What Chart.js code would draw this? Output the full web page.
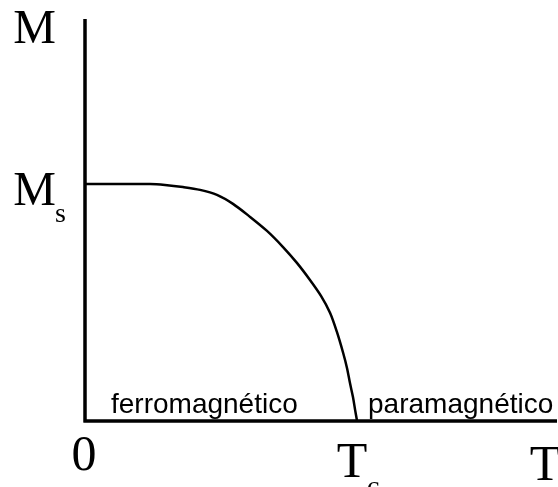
<!DOCTYPE html>
<html>
<head>
<meta charset="utf-8">
<script src="https://cdn.jsdelivr.net/npm/chart.js@4/dist/chart.umd.min.js"></script>
<style>
  body { margin: 0; background: #fff; }
  #wrap { width: 558px; height: 487px; position: relative; }
</style>
</head>
<body>
<div id="wrap"><canvas id="myChart"></canvas></div>
<script>
// T / Tc and M / Ms
const temps = [0, 0.239, 0.294, 0.360, 0.423, 0.485, 0.544, 0.607, 0.669, 0.728, 0.779,
               0.827, 0.868, 0.901, 0.926, 0.949, 0.963, 0.974, 0.985, 0.993, 1.0];
const magn  = [1, 1.0, 0.996, 0.987, 0.975, 0.954, 0.916, 0.861, 0.802, 0.734, 0.667,
               0.595, 0.527, 0.456, 0.376, 0.287, 0.224, 0.160, 0.101, 0.046, 0];
const regionLabels = ['ferromagnético', 'paramagnético'];
const xMax = 1.735, yMax = 1.696;

const serif = '"Liberation Serif", "Times New Roman", serif';
const sans = '"Liberation Sans", Arial, sans-serif';

const axesAndLabels = {
    id: 'axesAndLabels',
    afterDatasetsDraw(c) {
        const ctx = c.ctx, x = c.scales.x, y = c.scales.y;
        const x0 = x.getPixelForValue(0), y0 = y.getPixelForValue(0);
        const xEnd = x.getPixelForValue(xMax), yTop = y.getPixelForValue(yMax);
        const xc = x.getPixelForValue(1), ys = y.getPixelForValue(1);
        ctx.save();
        ctx.strokeStyle = '#000';
        ctx.lineWidth = 3.5;
        ctx.beginPath();
        ctx.moveTo(x0, yTop); ctx.lineTo(x0, y0 + 1.5);
        ctx.moveTo(x0 - 1.5, y0); ctx.lineTo(xEnd, y0);
        ctx.stroke();

        ctx.fillStyle = '#000';
        ctx.textBaseline = 'alphabetic';
        // y labels
        ctx.font = '48px ' + serif;
        ctx.textAlign = 'right';
        ctx.fillText('M', x0 - 29, yTop + 24);
        ctx.fillText('M', x0 - 29, ys + 21);
        ctx.font = '28px ' + serif;
        ctx.textAlign = 'left';
        ctx.fillText('s', x0 - 30, ys + 38);
        // x labels
        ctx.font = '50px ' + serif;
        ctx.textAlign = 'center';
        ctx.fillText('0', x0 - 1, y0 + 49);
        ctx.fillText('T', xc - 5, y0 + 56);
        ctx.fillText('T', xEnd - 12, y0 + 59);
        ctx.font = '28px ' + serif;
        ctx.textAlign = 'left';
        ctx.fillText('c', xc + 10, y0 + 74);
        // region names
        ctx.font = '28px ' + sans;
        ctx.fillText(regionLabels[0], x0 + 26, y0 - 8);
        ctx.fillText(regionLabels[1], xc + 11, y0 - 8);
        ctx.restore();
    }
};

new Chart(document.getElementById('myChart'), {
    type: 'scatter',
    data: {
        datasets: [{
            data: temps.map((t, i) => ({ x: t, y: magn[i] })),
            showLine: true,
            borderColor: '#000',
            borderWidth: 2.5,
            pointRadius: 0,
            tension: 0.3,
            clip: false
        }]
    },
    options: {
        responsive: true,
        maintainAspectRatio: false,
        animation: false,
        layout: { padding: { left: 85, top: 19, right: 1, bottom: 66 } },
        plugins: { legend: { display: false }, tooltip: { enabled: false } },
        scales: {
            x: { display: false, min: 0, max: xMax },
            y: { display: false, min: 0, max: yMax }
        }
    },
    plugins: [axesAndLabels]
});
</script>
</body>
</html>
